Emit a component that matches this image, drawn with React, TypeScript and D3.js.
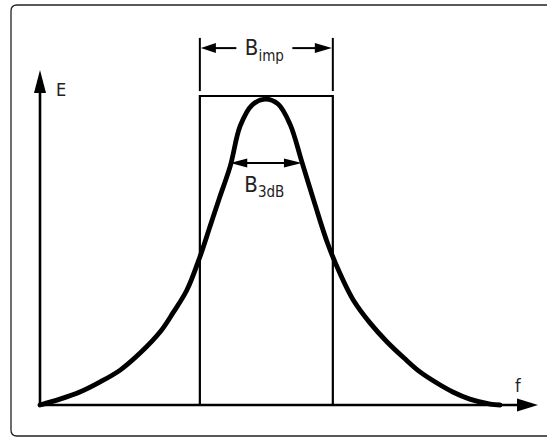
import React from "react";
import * as d3 from "d3";

// Frequency (arbitrary units 0..100) vs. normalized amplitude E
const curveFreq = [0, 4.0, 8.0, 12.0, 16.1, 20.1, 24.1, 26.7, 29.5, 32.1, 34.1, 36.1, 38.2, 40.2, 42.6, 45.2, 47.8, 50.2, 52.6, 55.2, 57.8, 60.2, 62.9, 66.3, 69.7, 73.1, 76.3, 79.7, 82.9, 86.3, 90.4, 92.4];
const curveAmp = [0, 0.019, 0.042, 0.074, 0.113, 0.168, 0.236, 0.298, 0.372, 0.479, 0.576, 0.673, 0.773, 0.903, 0.971, 0.99, 0.974, 0.909, 0.786, 0.65, 0.521, 0.427, 0.34, 0.265, 0.204, 0.152, 0.107, 0.071, 0.042, 0.019, 0.003, 0];

// Ideal rectangular (impulse) bandwidth
const impBand = [32.1, 58.8];
const impHeight = 1.0;

// 3 dB bandwidth marker
const band3dB = [38.2, 52.6];
const level3dB = 0.783;

// Annotation levels (amplitude units)
const bimpArrowLevel = 1.155;
const bimpExtTop = 1.188;
const bimpExtBottom = 1.016;

const xMaxArrow = 100;
const yMaxArrow = 1.084;

const labels = { e: "E", f: "f", bImp: ["B", "imp"], b3dB: ["B", "3dB"] };

const W = 547;
const H = 437;

export default function App() {
  const x = d3.scaleLinear().domain([0, 100]).range([40, 538]);
  const y = d3.scaleLinear().domain([0, 1]).range([405, 96]);

  const pts: [number, number][] = curveFreq.map((f, i) => [f, curveAmp[i]]);
  const line = d3
    .line<[number, number]>()
    .x((d) => x(d[0]))
    .y((d) => y(d[1]))
    .curve(d3.curveCatmullRom.alpha(0.5));

  const font = "'Liberation Sans Narrow', 'DejaVu Sans Condensed', 'Liberation Sans', Arial, sans-serif";

  const x0 = x(0);
  const y0 = y(0);
  const xTip = x(xMaxArrow);
  const yTip = y(yMaxArrow);

  const rL = x(impBand[0]);
  const rR = x(impBand[1]);
  const rT = y(impHeight);
  const center = (rL + rR) / 2;

  const ya = y(bimpArrowLevel);
  const y3 = y(level3dB);
  const l3 = x(band3dB[0]);
  const r3 = x(band3dB[1]);

  // frame path (rounded, right side cut off by the picture)
  const fr = 6;
  const fL = 11, fT = 5, fB = 436, fR = 560;
  const framePath = `M${fR},${fT} L${fL + fr},${fT} Q${fL},${fT} ${fL},${fT + fr} L${fL},${fB - fr} Q${fL},${fB} ${fL + fr},${fB} L${fR},${fB}`;

  return (
    <svg width={W} height={H} style={{ position: "absolute", left: 0, top: 0, background: "#fff" }}>
      <path d={framePath} fill="none" stroke="#222" strokeWidth={1.3} />

      {/* axes */}
      <line x1={x0} y1={y0} x2={xTip - 18} y2={y0} stroke="#000" strokeWidth={2.6} />
      <path d={`M${xTip},${y0} L${xTip - 21},${y0 - 6.5} L${xTip - 21},${y0 + 6.5} Z`} fill="#000" />
      <line x1={x0} y1={y0 + 1} x2={x0} y2={yTip + 18} stroke="#000" strokeWidth={2.6} />
      <path d={`M${x0},${yTip} L${x0 - 6},${yTip + 23} L${x0 + 6},${yTip + 23} Z`} fill="#000" />
      <text x={56} y={96} fontFamily={font} fontSize={18} fill="#222">{labels.e}</text>
      <text x={515} y={392} fontFamily={font} fontSize={18} fill="#222">{labels.f}</text>

      {/* impulse bandwidth rectangle */}
      <path d={`M${rL},${y0} L${rL},${rT} L${rR},${rT} L${rR},${y0}`} fill="none" stroke="#000" strokeWidth={2.2} />

      {/* curve */}
      <path d={line(pts) || ""} fill="none" stroke="#000" strokeWidth={4.8} strokeLinejoin="round" strokeLinecap="round" />

      {/* B_imp dimension */}
      <line x1={rL} y1={y(bimpExtTop)} x2={rL} y2={y(bimpExtBottom)} stroke="#000" strokeWidth={2} />
      <line x1={rR} y1={y(bimpExtTop)} x2={rR} y2={y(bimpExtBottom)} stroke="#000" strokeWidth={2} />
      <line x1={rL + 10} y1={ya} x2={center - 30} y2={ya} stroke="#000" strokeWidth={2} />
      <line x1={center + 26} y1={ya} x2={rR - 10} y2={ya} stroke="#000" strokeWidth={2} />
      <path d={`M${rL + 1},${ya} L${rL + 16},${ya - 5} L${rL + 16},${ya + 5} Z`} fill="#000" />
      <path d={`M${rR - 1},${ya} L${rR - 18},${ya - 5} L${rR - 18},${ya + 5} Z`} fill="#000" />
      <text x={center - 2} y={55} textAnchor="middle" fontFamily={font} fontSize={22} fill="#222">
        {labels.bImp[0]}
        <tspan fontSize={15} dy={6}>{labels.bImp[1]}</tspan>
      </text>

      {/* B_3dB dimension */}
      <line x1={l3 + 10} y1={y3} x2={r3 - 10} y2={y3} stroke="#000" strokeWidth={2} />
      <path d={`M${l3},${y3} L${l3 + 17},${y3 - 4.5} L${l3 + 17},${y3 + 4.5} Z`} fill="#000" />
      <path d={`M${r3},${y3} L${r3 - 18},${y3 - 4.5} L${r3 - 18},${y3 + 4.5} Z`} fill="#000" />
      <text x={center - 2} y={192} textAnchor="middle" fontFamily={font} fontSize={22} fill="#222">
        {labels.b3dB[0]}
        <tspan fontSize={15} dy={5}>{labels.b3dB[1]}</tspan>
      </text>
    </svg>
  );
}
